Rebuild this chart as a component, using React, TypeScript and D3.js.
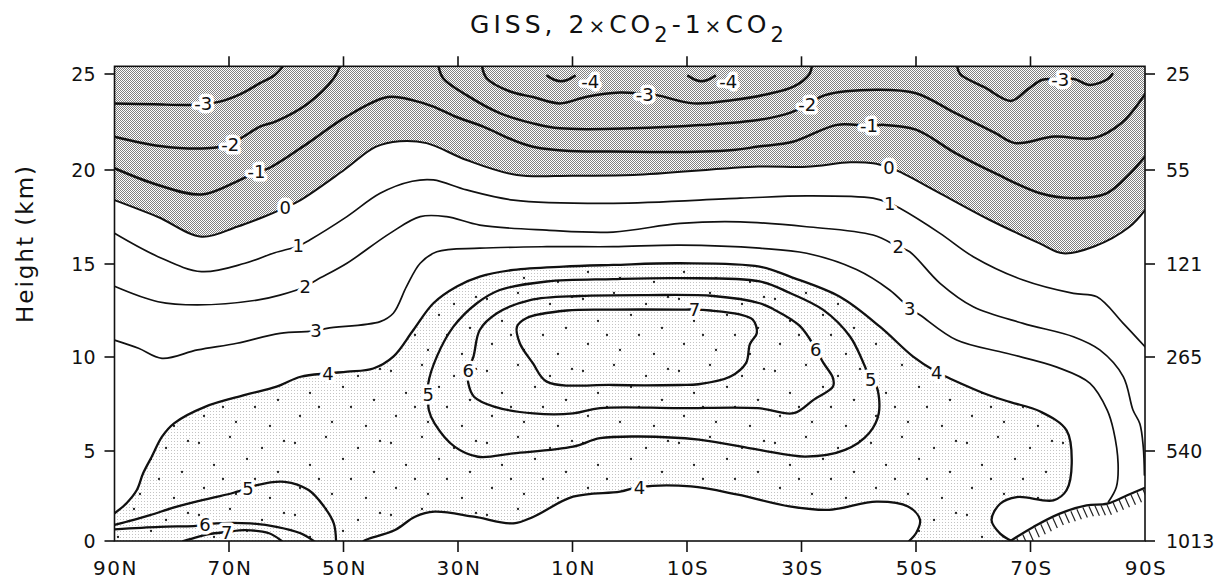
import * as d3 from "d3";

// [latitude (north positive), height in km]
type Pt = [number, number];

const latTicks = [90, 70, 50, 30, 10, -10, -30, -50, -70, -90];
const latLabels = ["90N", "70N", "50N", "30N", "10N", "10S", "30S", "50S", "70S", "90S"];
const heightTicks = [0, 5, 10, 15, 20, 25];
const pressureLabels = ["1013", "540", "265", "121", "55", "25"];

// contour lines (temperature change, deg C)
const minus4A: Pt[] = [[14.4, 24.9], [13.2, 24.7], [12.0, 24.62], [10.8, 24.7], [9.6, 24.9]];
const minus4B: Pt[] = [[-10.2, 24.9], [-11.4, 24.7], [-12.5, 24.62], [-13.7, 24.7], [-14.9, 24.9]];
const minus3Left: Pt[] = [[90, 23.47], [83, 23.42], [76.8, 23.39], [74.5, 23.45], [71.6, 23.56], [68, 23.95], [64.6, 24.52], [62, 24.95], [60.6, 25.4]];
const minus3Mid: Pt[] = [[25.8, 25.4], [25.0, 24.78], [21, 24.1], [16.9, 23.8], [12.2, 23.47], [7.5, 23.82], [1.7, 24.03], [-2.6, 23.95], [-4.7, 23.9], [-11.1, 23.47], [-18.1, 23.65], [-24, 23.95], [-28.6, 24.34], [-31.4, 25.0], [-31.8, 25.4]];
const minus3Right: Pt[] = [[-57.2, 25.4], [-57.7, 25.0], [-62, 24.3], [-66.6, 23.6], [-69.5, 24.2], [-72.1, 24.7], [-75.2, 24.72], [-77.6, 24.74], [-80.4, 24.43], [-83.5, 24.74], [-84.3, 25.0]];
const minus2Left: Pt[] = [[90, 21.73], [82.1, 21.25], [73.9, 21.13], [69.8, 21.34], [67.5, 21.73], [64.6, 22.26], [61.7, 22.55], [56.2, 23.47], [51.7, 24.78], [50.6, 25.4]];
const minus2Main: Pt[] = [[33.4, 25.4], [32.6, 24.78], [28.5, 23.9], [22.6, 22.95], [16.9, 22.43], [12.2, 22.17], [-0.6, 22.17], [-12.3, 22.34], [-22.4, 22.6], [-28.2, 23.0], [-31.0, 23.4], [-34.1, 23.9], [-43.1, 24.18], [-50.0, 24.0], [-56.9, 22.96], [-63.8, 21.93], [-67.3, 21.4], [-74.2, 21.74], [-81.1, 21.67], [-85.9, 22.45], [-90, 23.95]];
const minus1: Pt[] = [[90, 20.09], [82.4, 19.2], [74.8, 18.7], [68.6, 19.4], [65.2, 19.9], [63.0, 20.1], [56.2, 21.4], [49.9, 22.7], [42.3, 23.8], [37.5, 23.6], [34.3, 23.3], [30.6, 22.8], [25.6, 22.26], [16.9, 21.21], [-0.6, 20.95], [-18.1, 21.04], [-22.4, 21.22], [-28.5, 21.47], [-36.2, 22.35], [-41.8, 22.3], [-44.5, 22.35], [-50.0, 22.1], [-56.9, 20.88], [-63.8, 19.83], [-71.7, 18.76], [-77.4, 18.5], [-83.3, 18.76], [-87.4, 19.82], [-90, 20.7]];
const zero: Pt[] = [[90, 18.4], [82.4, 17.5], [74.8, 16.45], [68.6, 16.98], [64, 17.5], [60.2, 18.0], [57.5, 18.4], [49.9, 20.0], [44.4, 21.2], [40.2, 21.5], [35.5, 21.4], [28.5, 20.52], [19.7, 19.73], [10, 19.7], [-0.6, 19.73], [-22.4, 20.18], [-30.9, 20.17], [-38.5, 20.4], [-42.5, 20.35], [-45.3, 20.13], [-47.2, 19.9], [-54.2, 18.76], [-62.9, 17.34], [-71.6, 16.1], [-75.7, 15.57], [-81.1, 15.93], [-87.3, 16.98], [-90, 17.87]];
const one: Pt[] = [[90, 16.63], [82.4, 15.39], [74.8, 14.59], [67.2, 15.04], [62, 15.6], [57.9, 15.96], [55.9, 16.28], [49.4, 17.52], [43.6, 18.76], [38, 19.4], [34.3, 19.47], [28.5, 18.94], [20.3, 18.4], [2.9, 18.23], [-19.3, 18.5], [-30.9, 18.62], [-42.5, 18.5], [-45.4, 18.23], [-47.2, 17.96], [-54.2, 16.63], [-60.0, 15.39], [-68.7, 14.14], [-77.5, 13.42], [-81.6, 13.24], [-86.2, 11.81], [-90, 10.55]];
const two: Pt[] = [[90, 13.8], [82.4, 12.97], [75.5, 12.8], [65.1, 13.06], [61.1, 13.33], [56.7, 13.78], [54.7, 14.14], [49.4, 15.04], [41.9, 16.63], [36.6, 17.52], [32.0, 17.52], [26.2, 17.07], [14.5, 16.8], [2.9, 16.7], [-8.8, 17.16], [-19.3, 17.24], [-30.9, 16.98], [-42.5, 16.54], [-46.9, 15.92], [-48.9, 15.65], [-54.2, 13.96], [-60.0, 12.7], [-68.7, 11.81], [-77.5, 11.09], [-82.1, 10.38], [-86.2, 8.96], [-87.9, 7.18], [-89.1, 6.45], [-89.7, 5.2], [-89.9, 3.67]];
const three: Pt[] = [[90, 10.91], [85.8, 10.47], [81.7, 9.93], [75.5, 10.38], [68.6, 10.74], [61.1, 11.27], [54.8, 11.4], [52.9, 11.54], [43.6, 11.9], [41.3, 12.35], [39.0, 13.78], [36.6, 15.04], [33.7, 15.65], [26.2, 15.84], [14.5, 15.92], [2.9, 15.92], [-8.8, 16.0], [-22.7, 15.84], [-30.9, 15.57], [-39.6, 14.7], [-45.4, 13.6], [-48.9, 12.63], [-50.7, 12.26], [-57.1, 10.91], [-65.8, 10.2], [-74.6, 9.46], [-80.4, 8.6], [-83.4, 7.18], [-84.5, 6.1], [-85.3, 4.3], [-85.0, 3.0], [-83.6, 2.17]];
const fourUpper: Pt[] = [[90, 1.54], [87.9, 2.1], [86.1, 2.83], [85.0, 3.76], [83.5, 4.68], [81.7, 5.76], [79.6, 6.47], [74.1, 7.36], [67.2, 7.98], [61.7, 8.42], [57.5, 8.95], [52.7, 9.13], [49.3, 9.22], [44.8, 9.39], [41.3, 10.02], [37.8, 11.45], [34.3, 12.89], [30.2, 13.79], [26.2, 14.32], [20.3, 14.68], [11.6, 14.86], [2.9, 14.95], [-8.8, 15.04], [-22.7, 14.86], [-28.0, 14.32], [-36.7, 13.24], [-43.7, 11.63], [-49.5, 10.02], [-53.6, 9.2], [-55.9, 8.86], [-62.9, 7.95], [-66.5, 7.6], [-71.7, 7.1], [-76.3, 6.1], [-77.2, 4.3], [-76.3, 2.82], [-74.0, 2.26], [-67.6, 2.44], [-64.7, 2.07], [-63.2, 1.15], [-64.7, 0.41], [-66.7, 0]];
const fourLower: Pt[] = [[46.5, 0], [45.8, 0.1], [41.0, 0.61], [37.5, 1.35], [34.1, 1.63], [27.2, 1.35], [20.3, 0.98], [16.8, 1.35], [9.9, 2.46], [1.7, 2.74], [-1.7, 3.0], [-10.7, 3.03], [-18.9, 2.57], [-27.9, 1.92], [-34.8, 1.73], [-43.1, 2.19], [-48.6, 1.92], [-50.7, 1.18], [-50.0, 0.43], [-48.8, 0]];
const fiveLoop: Pt[] = [[35.2, 8.0], [35.2, 8.58], [33.7, 10.02], [30.8, 11.63], [26.7, 12.89], [22.7, 13.6], [14.5, 14.06], [2.9, 14.19], [-8.8, 14.24], [-22.7, 14.06], [-28.0, 13.44], [-33.8, 12.53], [-38.5, 11.09], [-40.8, 9.7], [-42.1, 8.78], [-43.1, 8.43], [-43.5, 7.01], [-41.8, 5.95], [-37.6, 5.06], [-30.7, 4.69], [-22.4, 5.07], [-12.1, 5.6], [-1.7, 5.77], [5.2, 5.68], [9.9, 5.23], [20.3, 4.87], [26.5, 4.68], [30.6, 5.23], [34.1, 6.47], [35.1, 7.18]];
const fiveSurface: Pt[] = [[90, 0.89], [87.9, 1.07], [83.8, 1.44], [79.1, 1.91], [73.3, 2.37], [69.2, 2.68], [66.7, 2.93], [65.1, 3.11], [60.3, 3.29], [56.1, 2.83], [53.4, 1.91], [51.7, 0.98], [51.3, 0]];
const sixLoop: Pt[] = [[28.2, 9.3], [27.3, 10.02], [26.2, 11.45], [23.2, 12.35], [17.4, 13.06], [8.7, 13.28], [-3.0, 13.33], [-14.6, 13.28], [-22.7, 12.89], [-25.1, 12.57], [-29.7, 11.67], [-32.5, 10.43], [-33.8, 9.7], [-35.5, 8.88], [-35.5, 8.43], [-32.1, 7.72], [-28.6, 7.01], [-22.4, 7.28], [-8.6, 7.28], [5.2, 7.28], [9.9, 7.0], [16.8, 7.0], [23.7, 7.36], [27.2, 7.89], [28.2, 8.6]];
const sixSurface: Pt[] = [[90, 0.65], [82.1, 0.79], [76.2, 0.83], [74.2, 0.89], [72.2, 0.98], [66.3, 0.98], [61.7, 0.79], [57.5, 0.43], [55.2, 0]];
const sevenLoop: Pt[] = [[-11.3, 12.55], [-14.1, 12.5], [-19, 12.3], [-21.5, 12.0], [-22.2, 11.3], [-21.0, 10.7], [-20.3, 9.67], [-17.6, 8.96], [-12, 8.55], [-8.8, 8.51], [2.9, 8.51], [14.5, 8.69], [16.9, 9.66], [19.2, 10.74], [19.7, 11.63], [18.0, 12.1], [11.0, 12.5], [2.9, 12.55], [-8.8, 12.55]];
const sevenSurface: Pt[] = [[78, 0], [76.8, 0.1], [73.5, 0.38], [70.4, 0.5], [67.2, 0.6], [63, 0.43], [60.8, 0]];
const terrain: Pt[] = [[-66.5, 0], [-70.5, 0.78], [-75.1, 1.52], [-79.8, 1.98], [-83.4, 2.07], [-86.9, 2.54], [-90, 2.96]];

// [value, latitude, height]
const contourLabels: [number, number, number][] = [
  [-3, 74.5, 23.45], [-3, -2.6, 23.95], [-3, -75.2, 24.72],
  [-4, 6.9, 24.6], [-4, -17.2, 24.6],
  [-2, 69.8, 21.34], [-2, -31.0, 23.4],
  [-1, 65.2, 19.9], [-1, -41.8, 22.3],
  [0, 60.2, 18.0], [0, -45.3, 20.13],
  [1, 57.9, 15.96], [1, -45.4, 18.23],
  [2, 56.7, 13.78], [2, -46.9, 15.92],
  [3, 54.8, 11.4], [3, -48.9, 12.63],
  [4, 52.7, 9.13], [4, -53.6, 9.2], [4, -1.7, 3.0],
  [5, 35.2, 8.0], [5, -42.1, 8.78], [5, 66.7, 2.93],
  [6, 28.2, 9.3], [6, -32.5, 10.43], [6, 74.2, 0.89],
  [7, -11.3, 12.55], [7, 70.4, 0.5],
];

const contours: { level: number; pts: Pt[]; closed?: boolean }[] = [
  { level: -4, pts: minus4A }, { level: -4, pts: minus4B },
  { level: -3, pts: minus3Left }, { level: -3, pts: minus3Mid }, { level: -3, pts: minus3Right },
  { level: -2, pts: minus2Left }, { level: -2, pts: minus2Main },
  { level: -1, pts: minus1 }, { level: 0, pts: zero },
  { level: 1, pts: one }, { level: 2, pts: two }, { level: 3, pts: three },
  { level: 4, pts: fourUpper }, { level: 4, pts: fourLower },
  { level: 5, pts: fiveLoop, closed: true }, { level: 5, pts: fiveSurface },
  { level: 6, pts: sixLoop, closed: true }, { level: 6, pts: sixSurface },
  { level: 7, pts: sevenLoop, closed: true }, { level: 7, pts: sevenSurface },
];

const TOP_KM = 25.4;
const FONT = "'DejaVu Sans', 'Liberation Sans', sans-serif";

const sparseDots = [[7, 11], [38, 5], [70, 16], [22, 33], [55, 27], [86, 40], [12, 56], [44, 62], [78, 66], [31, 47], [63, 47], [92, 9]];

export default function App() {
  const x = d3.scaleLinear().domain([90, -90]).range([114.5, 1145]);
  const y = d3.scaleLinear().domain(heightTicks).range([541, 451, 357, 264, 170, 74]);
  const yTop = y(TOP_KM);
  const x0 = x(90), x1 = x(-90), yB = y(0);

  const line = d3.line<Pt>().x(d => x(d[0])).y(d => y(d[1])).curve(d3.curveCatmullRom.alpha(0.5));
  const loop = d3.line<Pt>().x(d => x(d[0])).y(d => y(d[1])).curve(d3.curveCatmullRomClosed.alpha(0.5));

  const darkD = line(zero)! + ` L${x1},${yTop} L${x0},${yTop} Z`;
  const lightD = line(fourUpper)! + line([...fourLower].reverse())!.replace(/^M/, "L") + ` L${x0},${yB} Z`;

  const terrainKm = d3.scaleLinear().domain(terrain.map(d => d[0])).range(terrain.map(d => d[1]));
  const hatchLats = d3.range(-67.6, -89.9, -1.05);

  const width = (v: number) => (v < 0 ? 2.5 : v === 0 ? 2.0 : v <= 3 ? 1.7 : 2.3);

  return (
    <svg width={1219} height={582} style={{ position: "absolute", left: 0, top: 0, background: "#fff" }} fontFamily={FONT}>
      <defs>
        <pattern id="dark" width={2} height={2} patternUnits="userSpaceOnUse">
          <rect width={2} height={2} fill="#fff" />
          <rect width={1} height={1} fill="#808080" />
          <rect x={1} y={1} width={1} height={1} fill="#808080" />
        </pattern>
        <pattern id="light" width={3} height={3} patternUnits="userSpaceOnUse">
          <rect width={3} height={3} fill="#fff" />
          <rect width={1} height={1} fill="#c4c4c4" />
        </pattern>
        <pattern id="sparse" width={96} height={72} patternUnits="userSpaceOnUse">
          {sparseDots.map(([cx, cy], i) => <circle key={i} cx={cx} cy={cy} r={1.15} fill="#222" />)}
        </pattern>
        <clipPath id="plot">
          <rect x={x0} y={yTop} width={x1 - x0} height={yB - yTop} />
        </clipPath>
      </defs>

      <g clipPath="url(#plot)">
        <path d={darkD} fill="url(#dark)" />
        <path d={lightD} fill="url(#light)" />
        <path d={lightD} fill="url(#sparse)" />
        {contours.map((c, i) => (
          <path key={i} d={(c.closed ? loop : line)(c.pts)!} fill="none" stroke="#111" strokeWidth={width(c.level)} strokeLinejoin="round" strokeLinecap="round" />
        ))}
        <path d={line(terrain)!} fill="none" stroke="#111" strokeWidth={2.3} />
        {hatchLats.map((lat, i) => {
          const hx = x(lat), hy = y(terrainKm(lat));
          return <line key={i} x1={hx} y1={hy + 1} x2={hx + 4.5} y2={hy + 11} stroke="#222" strokeWidth={1.2} />;
        })}
        {contourLabels.map(([v, lat, km], i) => (
          <text key={i} x={x(lat)} y={y(km) + 6.5} textAnchor="middle" fontSize={18} fill="#111"
            stroke="#fff" strokeWidth={7} strokeLinejoin="round" paintOrder="stroke">
            {v < 0 ? `-${-v}` : `${v}`}
          </text>
        ))}
      </g>

      <rect x={x0} y={yTop} width={x1 - x0} height={yB - yTop} fill="none" stroke="#111" strokeWidth={1.6} />

      {heightTicks.map((h, i) => (
        <g key={h}>
          <line x1={x0 - 10} x2={x0} y1={y(h)} y2={y(h)} stroke="#111" strokeWidth={1.6} />
          <line x1={x1} x2={x1 + 10} y1={y(h)} y2={y(h)} stroke="#111" strokeWidth={1.6} />
          <text x={x0 - 19} y={y(h) + 7} textAnchor="end" fontSize={19} fill="#111">{h}</text>
          <text x={x1 + 21} y={y(h) + 7} textAnchor="start" fontSize={19} fill="#111">{pressureLabels[i]}</text>
        </g>
      ))}

      {latTicks.map((lat, i) => (
        <g key={lat}>
          {i > 0 && i < latTicks.length - 1 && (
            <>
              <line x1={x(lat)} x2={x(lat)} y1={yB} y2={yB + 11} stroke="#111" strokeWidth={1.6} />
              <line x1={x(lat)} x2={x(lat)} y1={yTop} y2={yTop - 10} stroke="#111" strokeWidth={1.6} />
            </>
          )}
          <text x={x(lat) + 1} y={575} textAnchor="middle" fontSize={20} letterSpacing={1.5} fill="#111">{latLabels[i]}</text>
        </g>
      ))}

      <text transform={`translate(33,${(y(10) + y(20)) / 2 - 20}) rotate(-90)`} textAnchor="middle" fontSize={23}
        letterSpacing={2} fill="#111">Height (km)</text>

      <text x={629} y={33} textAnchor="middle" fontSize={25} fill="#111" letterSpacing={4}>
        GISS, 2<tspan fontSize={20}>×</tspan>CO<tspan fontSize={21} dy={9}>2</tspan><tspan dy={-9}>-1</tspan><tspan fontSize={20}>×</tspan>CO<tspan fontSize={21} dy={9}>2</tspan>
      </text>
    </svg>
  );
}
